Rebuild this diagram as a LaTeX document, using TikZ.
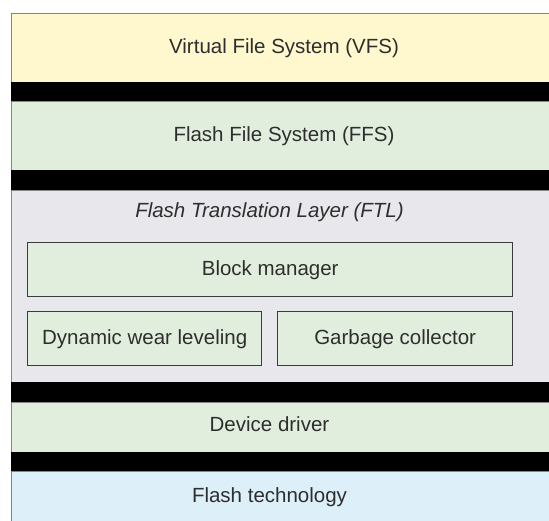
\documentclass[tikz,border=0pt]{standalone}
\usepackage{fontspec}
\setmainfont{Liberation Sans}
\definecolor{vfsfill}{HTML}{FFF8CE}
\definecolor{greenfill}{HTML}{E1EEDD}
\definecolor{ftlfill}{HTML}{E8E8EC}
\definecolor{techfill}{HTML}{DDEFF9}
\definecolor{layerline}{HTML}{858585}
\definecolor{boxline}{HTML}{3C3C3C}
\definecolor{txt}{HTML}{2E2E2E}
\newcommand{\labelsize}{\fontsize{20.5}{23}\selectfont}
\tikzset{
  layer/.style={draw=layerline, line width=1pt, anchor=north west, inner sep=0pt,
    font=\labelsize, text=txt},
  band/.style={fill=black, draw=none, anchor=north west, inner sep=0pt},
  module/.style={draw=boxline, line width=1.4pt, fill=greenfill, anchor=north west,
    inner sep=0pt, font=\labelsize, text=txt},
}
\begin{document}
\begin{tikzpicture}[x=1pt,y=-1pt]
\useasboundingbox[fill=white] (0,0) rectangle (549,520);
% layer stack
\node[layer, fill=vfsfill, minimum width=545pt, minimum height=69pt] (vfs) at (11,13) {Virtual File System (VFS)};
\node[band, minimum width=545pt, minimum height=19pt] (b1) at (11,82) {};
\node[layer, fill=greenfill, minimum width=545pt, minimum height=69pt] (ffs) at (11,101) {Flash File System (FFS)};
\node[band, minimum width=545pt, minimum height=20pt] (b2) at (11,170) {};
\node[layer, fill=ftlfill, minimum width=545pt, minimum height=192pt] (ftl) at (11,190) {};
\node[font=\labelsize\itshape, text=txt] (ftltitle) at (269.5,212) {Flash Translation Layer (FTL)};
\node[band, minimum width=545pt, minimum height=20pt] (b3) at (11,382) {};
\node[layer, fill=greenfill, minimum width=545pt, minimum height=50pt] (dd) at (11,402) {};
\node[font=\labelsize, text=txt] (ddlabel) at (269.5,424) {Device driver};
\node[band, minimum width=545pt, minimum height=19pt] (b4) at (11,452) {};
\node[layer, fill=techfill, minimum width=545pt, minimum height=53pt] (tech) at (11,471) {};
\node[font=\labelsize, text=txt] (techlabel) at (269.5,497) {Flash technology};
% FTL modules
\node[module, minimum width=485pt, minimum height=54pt] (bm) at (27,242) {Block manager};
\node[module, minimum width=234pt, minimum height=54pt] (dwl) at (27,311) {Dynamic wear leveling};
\node[module, minimum width=235pt, minimum height=54pt] (gc) at (277,311) {Garbage collector};
\end{tikzpicture}
\end{document}
